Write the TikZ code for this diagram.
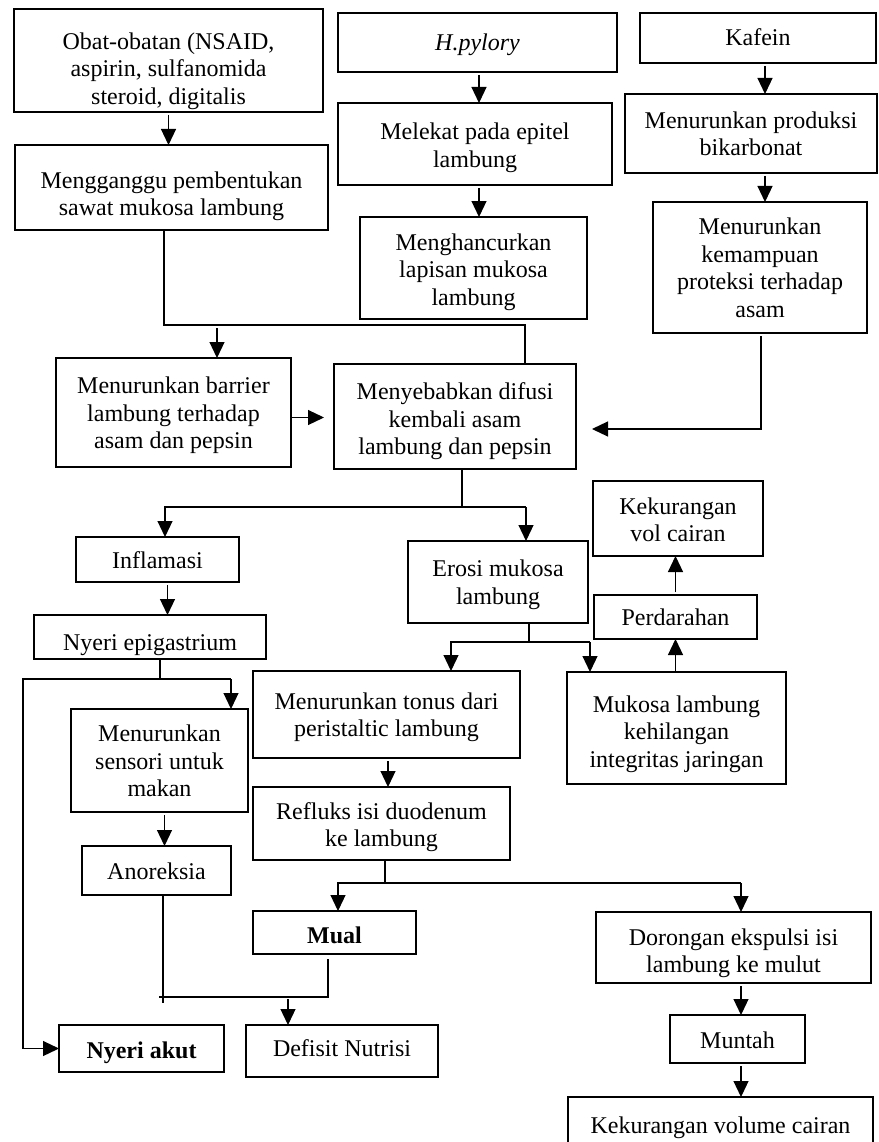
\documentclass[tikz,border=0pt]{standalone}
\usepackage{fontspec}
\setmainfont{Liberation Serif}
\usetikzlibrary{arrows.meta}
\newcommand\bx[7][3]{%
  \pgfmathsetmacro\bxcx{(#3+#5)/2}%
  \pgfmathsetmacro\bxcy{(#4+#6)/2}%
  \pgfmathsetmacro\bxw{#5-#3}%
  \pgfmathsetmacro\bxh{#6-#4}%
  \node[box, minimum width=\bxw pt, minimum height=\bxh pt] (#2) at (\bxcx,\bxcy)
    {\raisebox{-#1pt}[\height][\depth]{\begin{tabular}{@{}c@{}}#7\end{tabular}}};}
\begin{document}
\begin{tikzpicture}[x=1pt,y=-1pt,
  box/.style={draw, line width=2.8pt, inner sep=0pt, outer sep=0pt,
    font=\fontsize{24}{27.5}\selectfont},
  ln/.style={line width=1.2pt},
  arr/.style={ln, -{Triangle[width=15pt,length=16pt]}},
  arrb/.style={arr, shorten <=3pt}]
\useasboundingbox (0,0) rectangle (878,1142);
\clip (0,0) rectangle (878,1142);
\fill[white] (0,0) rectangle (878,1142);

\bx[11]{obat}{14}{9}{323}{112}{Obat-obatan (NSAID,\\ aspirin, sulfanomida\\ steroid, digitalis}
\bx[9]{mengg}{15}{145}{328}{230}{Mengganggu pembentukan\\ sawat mukosa lambung}
\bx[3]{hp}{338}{13}{617}{72}{\textit{H.pylory}}
\bx[4]{melekat}{338}{103}{612}{185}{Melekat pada epitel\\ lambung}
\bx[4]{mengh}{360}{217}{587}{319}{Menghancurkan\\ lapisan mukosa\\ lambung}
\bx[2]{kafein}{640}{13}{876}{63}{Kafein}
\bx[3]{prod}{625}{94}{877}{173}{Menurunkan produksi\\ bikarbonat}
\bx[3]{kemamp}{653}{202}{867}{333}{Menurunkan\\ kemampuan\\ proteksi terhadap\\ asam}
\bx[3]{barrier}{56}{358}{291}{467}{Menurunkan barrier\\ lambung terhadap\\ asam dan pepsin}
\bx[5]{menye}{334}{364}{576}{469}{Menyebabkan difusi\\ kembali asam\\ lambung dan pepsin}
\bx[3]{infl}{76}{537}{239}{582}{Inflamasi}
\bx[8]{nepi}{34}{615}{266}{659}{Nyeri epigastrium}
\bx[3]{erosi}{408}{541}{588}{623}{Erosi mukosa\\ lambung}
\bx[4]{kvol}{593}{481}{763}{556}{Kekurangan\\ vol cairan}
\bx[3]{perd}{594}{595}{757}{639}{Perdarahan}
\bx[6]{mukosa}{567}{672}{786}{784}{Mukosa lambung\\ kehilangan\\ integritas jaringan}
\bx[3]{tonus}{253}{671}{520}{758}{Menurunkan tonus dari\\ peristaltic lambung}
\bx[3]{sens}{71}{709}{248}{812}{Menurunkan\\ sensori untuk\\ makan}
\bx[4]{refl}{253}{787}{510}{860}{Refluks isi duodenum\\ ke lambung}
\bx[3]{anor}{82}{846}{231}{895}{Anoreksia}
\bx[5]{mual}{253}{911}{416}{954}{\textbf{Mual}}
\bx[6]{dor}{596}{912}{871}{983}{Dorongan ekspulsi isi\\ lambung ke mulut}
\bx[4]{munt}{670}{1015}{805}{1063}{Muntah}
\bx[4]{nakut}{59}{1025}{224}{1072}{\textbf{Nyeri akut}}
\bx[0]{defis}{246}{1025}{438}{1077}{Defisit Nutrisi}
\bx[3]{kv2}{568}{1097}{873}{1153}{Kekurangan volume cairan}

% left top chain
\draw[arrb] (obat.south) -- (obat.south |- mengg.north);
\coordinate (j1) at (164,325);
\coordinate (j2) at (525,325);
\coordinate (j3) at (217,328);
\draw[ln] (mengg.south -| j1) -- (j1) -- (j2) -- (j2 |- menye.north);
\draw[arr] (j3) -- (j3 |- barrier.north);
\draw[arr, shorten >=10pt] ([yshift=-5pt]barrier.east) -- ([yshift=-5pt]barrier.east -| menye.west);

% H. pylory chain
\coordinate (h) at (479,0);
\draw[arrb] (hp.south -| h) -- (h |- melekat.north);
\draw[arrb] (melekat.south -| h) -- (h |- mengh.north);

% Kafein chain
\coordinate (kf) at (765,0);
\draw[arrb] (kafein.south -| kf) -- (kf |- prod.north);
\draw[arrb] (prod.south -| kf) -- (kf |- kemamp.north);
\coordinate (k1) at (761,429);
\draw[arrb, shorten >=16pt] (kemamp.south -| k1) -- (k1) -- (k1 -| menye.east);

% split below Menyebabkan
\coordinate (m1) at (462,507);
\coordinate (m2) at (165,507);
\coordinate (m3) at (526,507);
\draw[ln] (menye.south -| m1) -- (m1);
\draw[arr] (m3) -- (m2) -- (m2 |- infl.north);
\draw[arr] (m3) -- (m3 |- erosi.north);

% left column
\draw[arrb] ([xshift=10pt]infl.south) -- ([xshift=10pt]infl.south |- nepi.north);
\coordinate (n1) at (160,679);
\coordinate (n2) at (23,679);
\coordinate (n3) at (231,679);
\draw[ln] (nepi.south -| n1) -- (n1);
\draw[arr] (n3) -- (n2) -- (n2 |- nakut.west) -- (nakut.west);
\draw[arr] (n3) -- (n3 |- sens.north);
\draw[arrb] ([xshift=5pt]sens.south) -- ([xshift=5pt]sens.south |- anor.north);
\coordinate (d0) at (163,1003);
\coordinate (d1) at (159,997);
\coordinate (d2) at (328,997);
\coordinate (d3) at (288,999);
\draw[ln] (anor.south -| d0) -- (d0);
\draw[ln, shorten <=5pt] (mual.south -| d2) -- (d2) -- (d1);
\draw[arr] (d3) -- (d3 |- defis.north);

% split below Erosi
\coordinate (e1) at (529,642);
\coordinate (e2) at (451,642);
\coordinate (e3) at (590,642);
\draw[ln] (erosi.south -| e1) -- (e1);
\draw[arr] (e3) -- (e2) -- (e2 |- tonus.north);
\draw[arr] (e3) -- (e3 |- mukosa.north);
\draw[arr] (mukosa.north -| perd.south) -- (perd.south);
\draw[arrb] (perd.north) -- (perd.north |- kvol.south);

% middle / right bottom
\coordinate (t) at (388,0);
\draw[arrb] (tonus.south -| t) -- (t |- refl.north);
\coordinate (r1) at (385,883);
\coordinate (r2) at (338,883);
\coordinate (r3) at (741,883);
\draw[ln] (refl.south -| r1) -- (r1);
\draw[arr] (r3) -- (r2) -- (r2 |- mual.north);
\draw[arr] (r3) -- (r3 |- dor.north);
\draw[arrb] (dor.south -| r3) -- (r3 |- munt.north);
\draw[arrb] (munt.south -| r3) -- (r3 |- kv2.north);
\end{tikzpicture}
\end{document}
